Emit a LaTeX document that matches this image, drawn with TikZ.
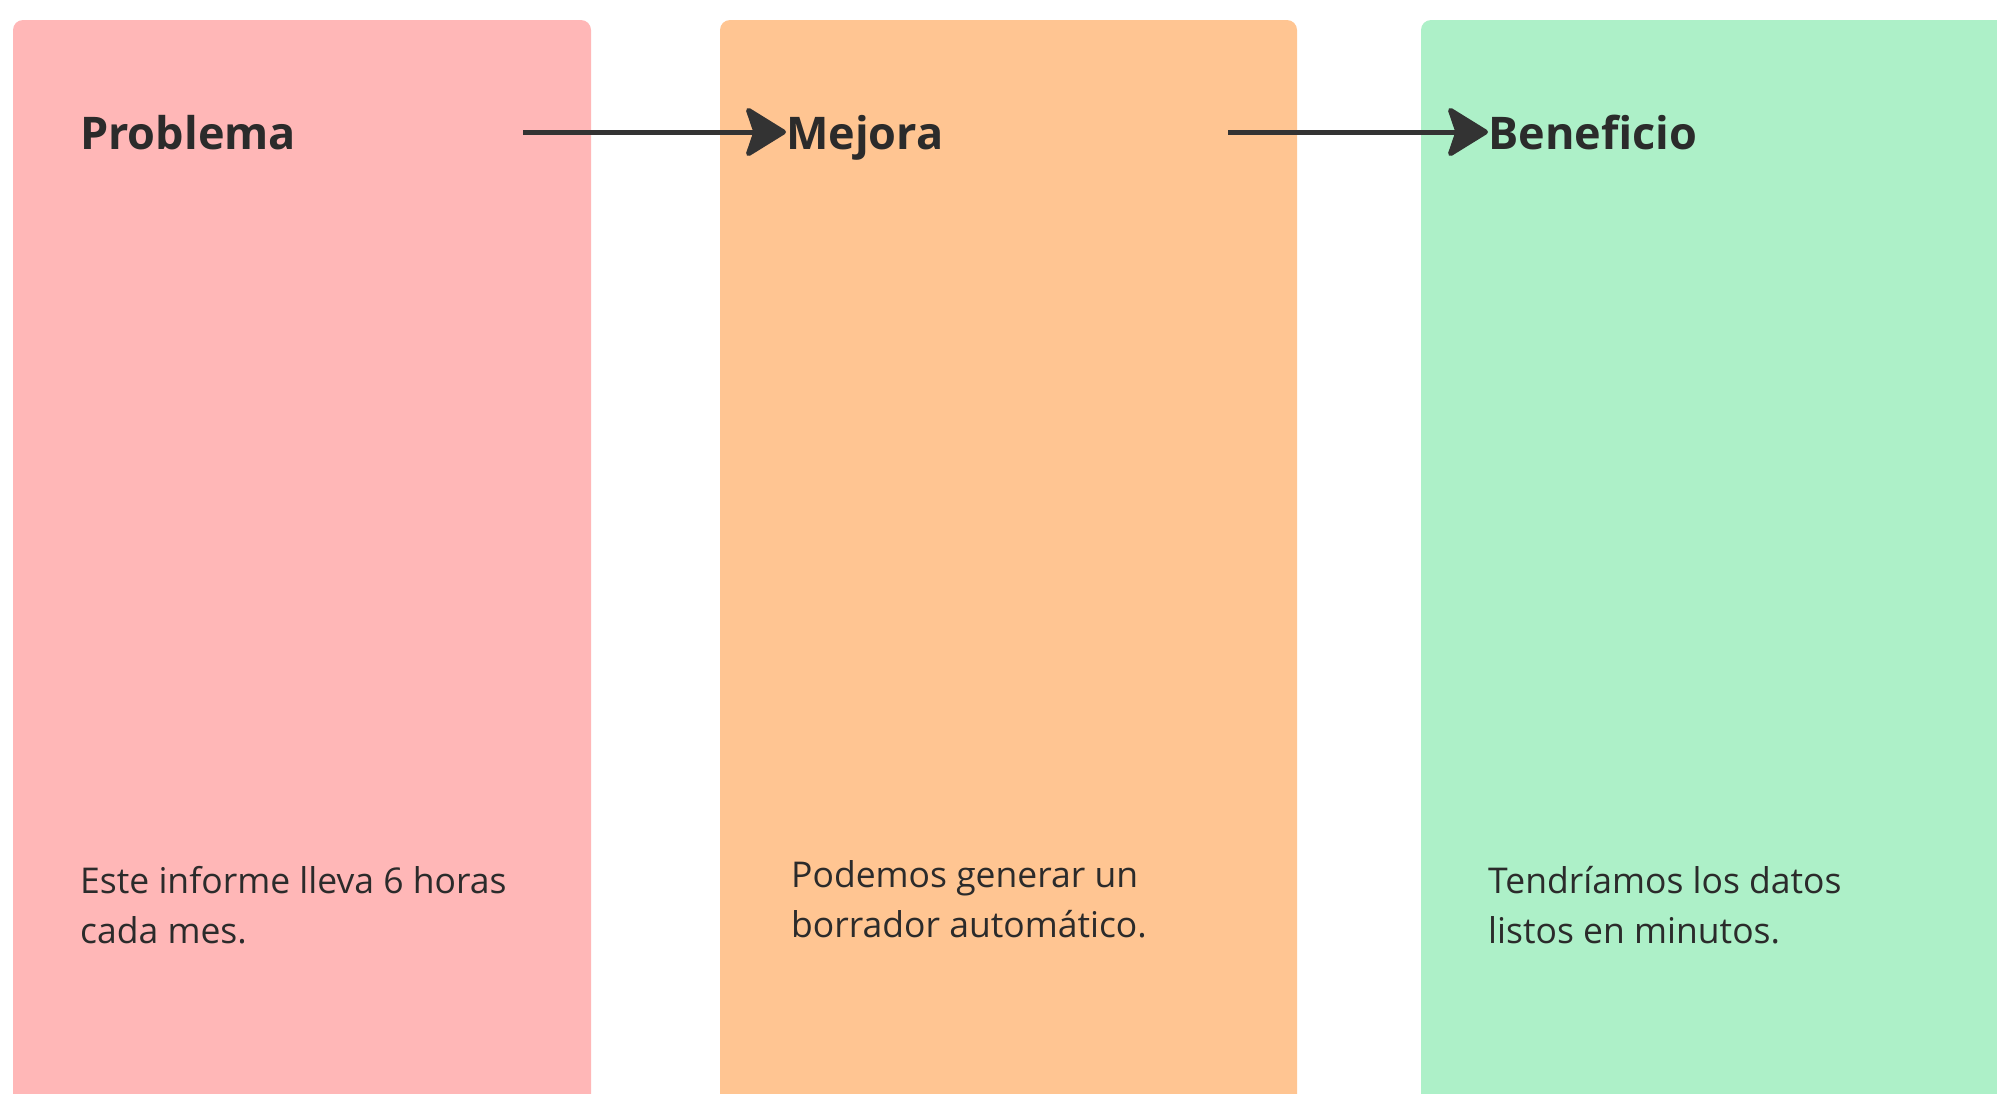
\documentclass[tikz,border=0pt]{standalone}
\usepackage{fontspec}
\setmainfont{Open Sans}
\usetikzlibrary{arrows.meta}

\definecolor{problemfill}{HTML}{FFB7B7}
\definecolor{improvefill}{HTML}{FFC592}
\definecolor{benefitfill}{HTML}{ADF0C8}
\definecolor{inkdark}{HTML}{2B2B2B}
\definecolor{arrowdark}{HTML}{333333}

\begin{document}
\begin{tikzpicture}[x=1pt,y=-1pt,
		panel/.style={rounded corners=10pt},
		heading/.style={anchor=west,inner sep=0pt,text height=34pt,text depth=0pt,
			font=\fontsize{45}{52}\selectfont\bfseries,text=inkdark},
		body/.style={anchor=north west,inner sep=0pt,align=left,
			font=\fontsize{35.5}{50}\selectfont,text=inkdark},
		flow/.style={draw=arrowdark,line width=5pt,
			-{Stealth[length=44pt,width=54pt,inset=9pt,round]}}]
	\def\top{20};
	\def\rowy{132};
	
	\useasboundingbox (0,0) rectangle (1997,1093);
	\clip (0,0) rectangle (1997,1093);
	
	\begin{scope}
		\fill[panel, problemfill] (13,\top) rectangle (591,1120);
		\fill[panel, improvefill] (720,\top) rectangle (1297,1120);
		\fill[panel, benefitfill] (1421,\top) rectangle (2030,1120);
	\end{scope}
	
	\begin{scope}
		\node[heading] (problema) at (80,\rowy) {Problema};
		\node[heading] (mejora) at (786,\rowy) {Mejora};
		\node[heading] (beneficio) at (1488,\rowy) {Beneficio};
		
		\node[body] (problematxt) at (80,866) {Este informe lleva 6 horas\\cada mes.};
		\node[body] (mejoratxt) at (791,860) {Podemos generar un\\borrador automático.};
		\node[body] (beneficiotxt) at (1488,866) {Tendríamos los datos\\listos en minutos.};
	\end{scope}
	
	\coordinate (out1) at (523,\rowy);
	\coordinate (out2) at (1228,\rowy);
	
	\begin{scope}
		\draw[flow] (out1) -- (mejora.west);
		\draw[flow] (out2) -- (beneficio.west);
	\end{scope}
\end{tikzpicture}
\end{document}
